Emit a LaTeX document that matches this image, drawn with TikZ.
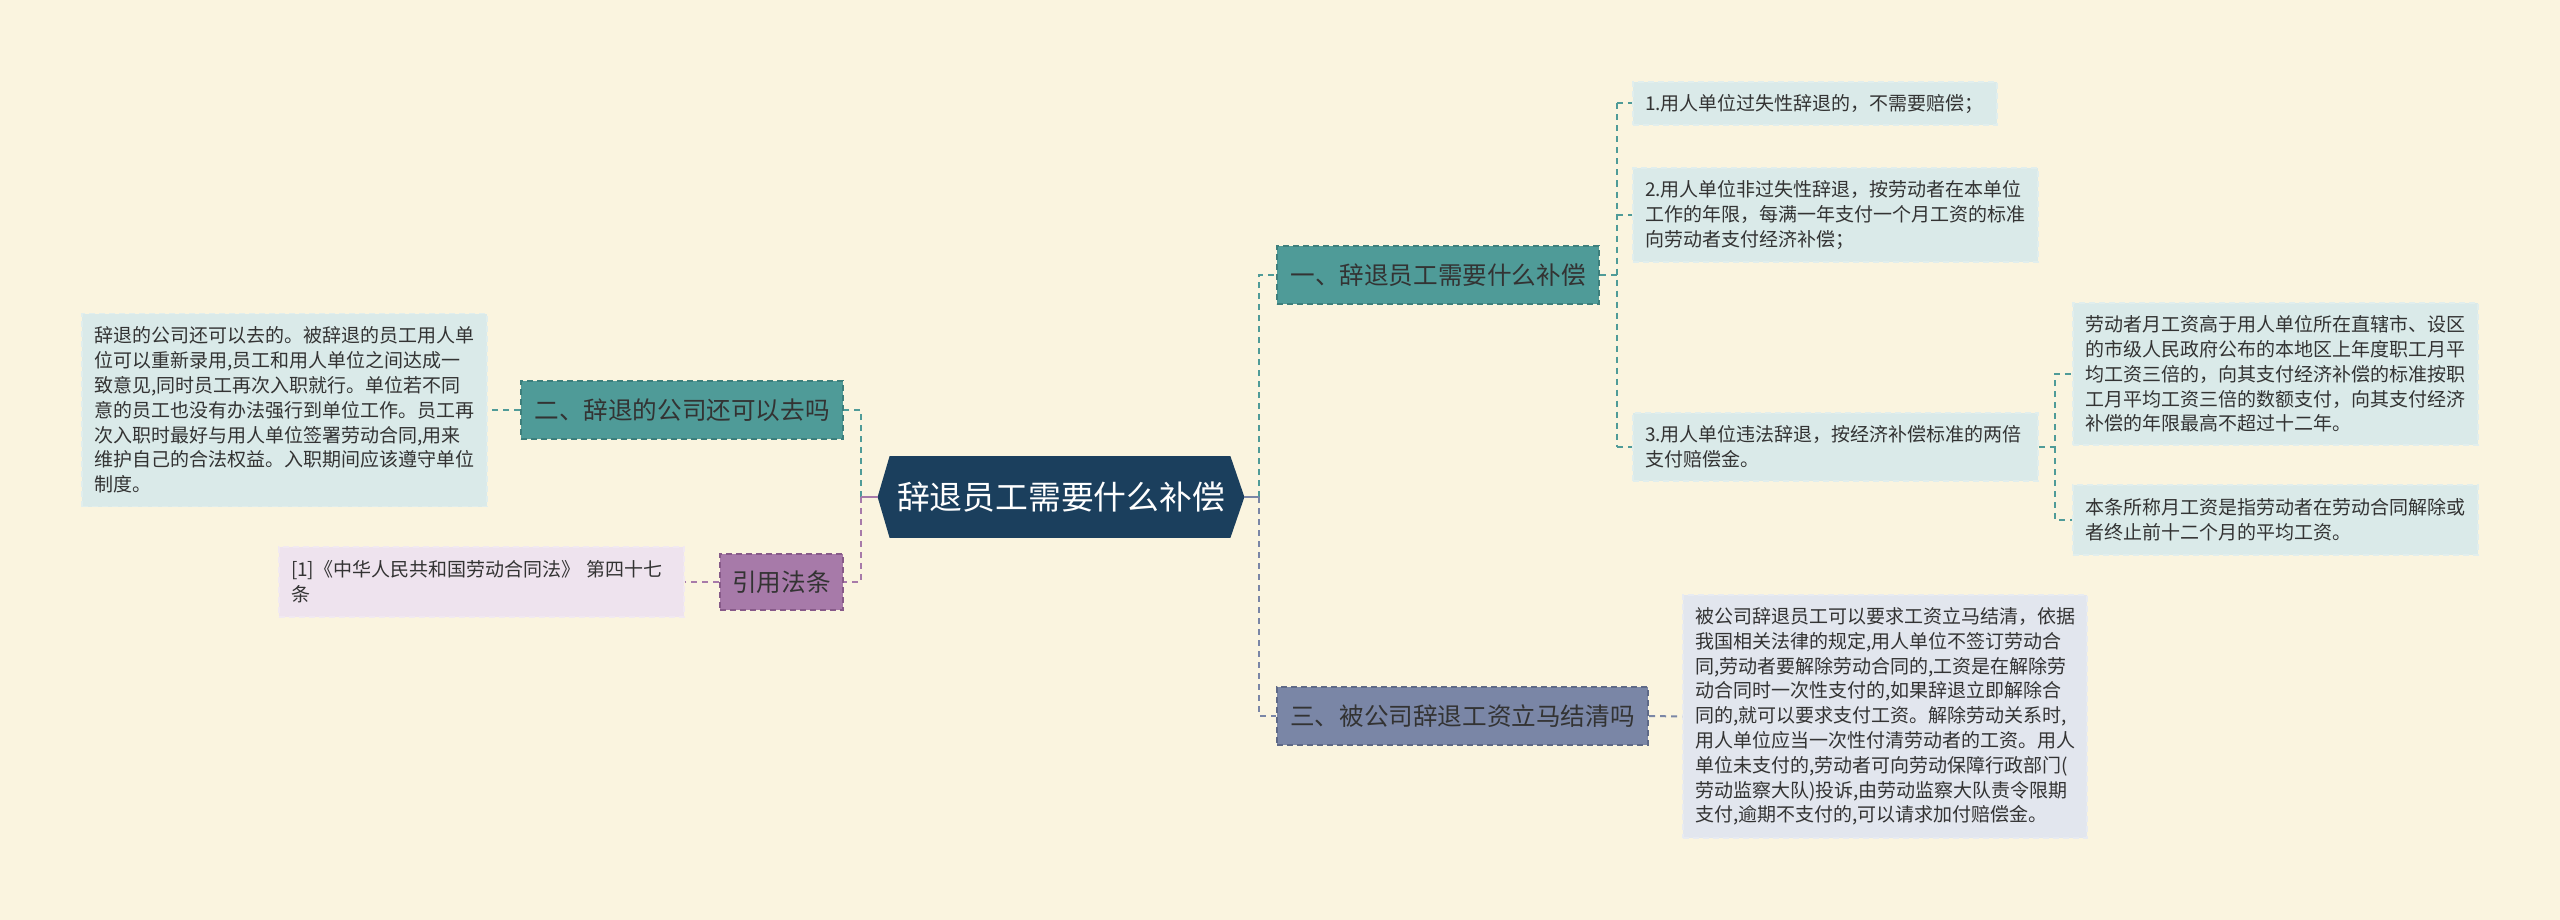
\documentclass[tikz,border=0pt]{standalone}
\usepackage{fontspec}
\setmainfont{Noto Sans CJK SC}
\usetikzlibrary{backgrounds}
\definecolor{bgc}{HTML}{FAF4DF}
\definecolor{navy}{HTML}{1B3F5D}
\definecolor{tealc}{HTML}{4F9B98}
\definecolor{tealb}{HTML}{3D7F7C}
\definecolor{slatec}{HTML}{7A86A6}
\definecolor{slateb}{HTML}{5E6987}
\definecolor{purc}{HTML}{A77AA9}
\definecolor{purb}{HTML}{875A89}
\definecolor{childf}{HTML}{DAEAE9}
\definecolor{grayf}{HTML}{E2E6EE}
\definecolor{lavf}{HTML}{EEE3EE}
\definecolor{txt}{HTML}{333333}
\tikzset{
  conn/.style={line width=1pt, dash pattern=on 3pt off 2.5pt},
  stub/.style={line width=1.2pt},
  branch/.style={draw, line width=1pt, dash pattern=on 3pt off 2pt, text=txt,
    font=\fontsize{12.3pt}{14pt}\selectfont, inner sep=0pt, minimum height=29pt},
  child/.style={fill=childf, draw=childf!80!white, line width=0.8pt, dash pattern=on 3pt off 2pt,
    text=txt, align=left, inner xsep=6pt, inner ysep=0pt,
    font=\fontsize{9.5pt}{12.4pt}\selectfont},
}
\begin{document}
\begin{tikzpicture}[x=0.5pt,y=-0.5pt]
\useasboundingbox (0,0) rectangle (2560,920);
% center
\node[text=white, font=\fontsize{16.4pt}{19pt}\selectfont, minimum width=183pt, minimum height=40.5pt, inner sep=0pt] (c) at (1061,497) {辞退员工需要什么补偿};
\begin{scope}[on background layer]
\fill[bgc] (0,0) rectangle (2560,920);
\fill[navy] (c.west) -- ([xshift=6pt]c.north west) -- ([xshift=-7pt]c.north east) -- (c.east) -- ([xshift=-7pt]c.south east) -- ([xshift=6pt]c.south west) -- cycle;
\end{scope}
% branches
\node[branch, fill=tealc, draw=tealb, minimum width=161pt] (b1) at (1438,275) {一、辞退员工需要什么补偿};
\node[branch, fill=slatec, draw=slateb, minimum width=185.5pt] (b3) at (1462.5,716) {三、被公司辞退工资立马结清吗};
\node[branch, fill=tealc, draw=tealb, minimum width=161pt] (b2) at (682,410) {二、辞退的公司还可以去吗};
\node[branch, fill=purc, draw=purb, minimum width=61.5pt, minimum height=28pt] (cite) at (781.5,582) {引用法条};
% children of b1
\node[child, text width=170pt, minimum height=21.5pt] (c11) at (1815,103.5) {1.用人单位过失性辞退的，不需要赔偿；};
\node[child, text width=190.5pt, minimum height=47pt] (c12) at (1835.5,215) {2.用人单位非过失性辞退，按劳动者在本单位\\工作的年限，每满一年支付一个月工资的标准\\向劳动者支付经济补偿；};
\node[child, text width=190.5pt, minimum height=34pt] (c13) at (1835.5,447) {3.用人单位违法辞退，按经济补偿标准的两倍\\支付赔偿金。};
\node[child, text width=190.5pt, minimum height=71pt] (c131) at (2275.5,374) {劳动者月工资高于用人单位所在直辖市、设区\\的市级人民政府公布的本地区上年度职工月平\\均工资三倍的，向其支付经济补偿的标准按职\\工月平均工资三倍的数额支付，向其支付经济\\补偿的年限最高不超过十二年。};
\node[child, text width=190.5pt, minimum height=35pt] (c132) at (2275.5,520) {本条所称月工资是指劳动者在劳动合同解除或\\者终止前十二个月的平均工资。};
% child of b3
\node[child, fill=grayf, draw=grayf!80!white, text width=190pt, minimum height=121.5pt] (c3) at (1885,716.5) {被公司辞退员工可以要求工资立马结清，依据\\我国相关法律的规定,用人单位不签订劳动合\\同,劳动者要解除劳动合同的,工资是在解除劳\\动合同时一次性支付的,如果辞退立即解除合\\同的,就可以要求支付工资。解除劳动关系时,\\用人单位应当一次性付清劳动者的工资。用人\\单位未支付的,劳动者可向劳动保障行政部门(\\劳动监察大队)投诉,由劳动监察大队责令限期\\支付,逾期不支付的,可以请求加付赔偿金。};
% child of b2
\node[child, text width=190.5pt, minimum height=96.5pt] (c2) at (284.5,410) {辞退的公司还可以去的。被辞退的员工用人单\\位可以重新录用,员工和用人单位之间达成一\\致意见,同时员工再次入职就行。单位若不同\\意的员工也没有办法强行到单位工作。员工再\\次入职时最好与用人单位签署劳动合同,用来\\维护自己的合法权益。入职期间应该遵守单位\\制度。};
% citation text
\node[child, fill=lavf, draw=lavf!80!white, text width=190.5pt, minimum height=35pt] (citet) at (481.5,582) {[1]《中华人民共和国劳动合同法》 第四十七\\条};
% connectors
\coordinate (rb) at (1259,497);
\coordinate (lb) at (861,497);
\draw[conn, tealc] (rb) |- (b1.west);
\draw[conn, slatec] (rb) |- (b3.west);
\draw[stub, slatec] (c.east) -- (rb);
\draw[conn, tealc] (lb) |- (b2.east);
\draw[conn, purc] (lb) |- (cite.east);
\draw[stub, purc] (c.west) -- (lb);
\coordinate (bb1) at (1617,275);
\draw[conn, tealc] (b1.east) -- (bb1);
\draw[conn, tealc] (c11.west -| bb1) -- (c13.west -| bb1);
\draw[conn, tealc] (c11.west -| bb1) -- (c11.west);
\draw[conn, tealc] (c12.west -| bb1) -- (c12.west);
\draw[conn, tealc] (c13.west -| bb1) -- (c13.west);
\coordinate (bb13) at (2055,447);
\draw[conn, tealc] (c13.east) -- (bb13) |- (c131.west);
\draw[conn, tealc] (bb13) |- (c132.west);
\draw[conn, slatec] (b3.east) -- (c3.west);
\draw[conn, tealc] (b2.west) -- (c2.east);
\draw[conn, purc] (cite.west) -- (citet.east);
\end{tikzpicture}
\end{document}
